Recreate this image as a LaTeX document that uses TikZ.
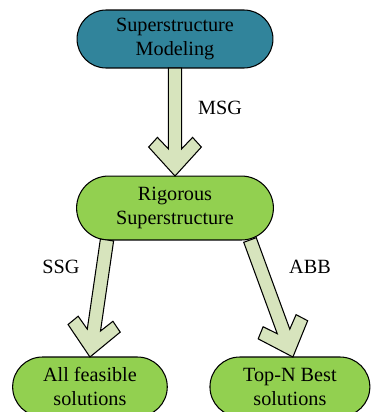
\documentclass[tikz,border=0pt]{standalone}
\usepackage{fontspec}
\setmainfont{Liberation Serif}
\usepackage{tikz}
\usetikzlibrary{positioning,shapes.misc,calc}
\definecolor{tealbox}{HTML}{31849B}
\definecolor{greenbox}{HTML}{92D050}
\definecolor{pilfill}{HTML}{D7E4BD}
% fat outlined arrow from #1 to #2
\newcommand{\fatpil}[2]{%
  \draw[fatpil] ($(#1)!3.8pt!90:(#2)$)
    -- ($(#2)!15.5pt!(#1)!3.8pt!-90:(#1)$)
    -- ($(#2)!22pt!(#1)!10pt!-90:(#1)$)
    -- ($(#2)!16.5pt!(#1)!15pt!-90:(#1)$)
    -- (#2)
    -- ($(#2)!16.5pt!(#1)!15pt!90:(#1)$)
    -- ($(#2)!22pt!(#1)!10pt!90:(#1)$)
    -- ($(#2)!15.5pt!(#1)!3.8pt!90:(#1)$)
    -- ($(#1)!3.8pt!-90:(#2)$) -- cycle;}

\begin{document}
\begin{tikzpicture}[%
  x=0.02cm,
  y=-0.02cm,
  font=\fontsize{11.5pt}{13.7pt}\selectfont,
  stage/.style={
    rounded rectangle,
    draw=black,
    line width=0.6pt,
    align=center,
    inner sep=0pt,
    outer sep=0pt,},
  fatpil/.style={
    draw=black,
    fill=pilfill,
    line width=0.6pt,
    line join=miter,}
  ]
  \path[use as bounding box, clip] (0,0) rectangle (371,412);
  %% Nodes
  \node[stage, fill=tealbox, minimum width=111.5pt, minimum height=33pt]
    (model) at (175,39) {Superstructure\\Modeling};
  \node[stage, fill=greenbox, minimum width=112pt, minimum height=36.4pt,
    below=61.5pt of model] (rigor) {Rigorous\\Superstructure};
  \node[stage, fill=greenbox, minimum width=88pt, minimum height=34pt,
    below=66.6pt of rigor, xshift=-48.4pt] (feas) {All feasible\\solutions};
  \node[stage, fill=greenbox, minimum width=91pt, minimum height=34pt,
    below=66.6pt of rigor, xshift=65.4pt] (topn) {Top-N Best\\solutions};
  \coordinate (ssgA) at ($(rigor.south)+(-68,0)$);
  \coordinate (abbA) at ($(rigor.south)+(75,0)$);
  \coordinate (abbB) at ($(topn.north)+(3,0)$);
  %% Edges
  \fatpil{model.south}{rigor.north}
  \fatpil{ssgA}{feas.north}
  \fatpil{abbA}{abbB}
  %% Labels
  \node (msg) at (220,108) {MSG};
  \node (ssg) at (61,267) {SSG};
  \node (abb) at (310,267) {ABB};
\end{tikzpicture}
\end{document}
